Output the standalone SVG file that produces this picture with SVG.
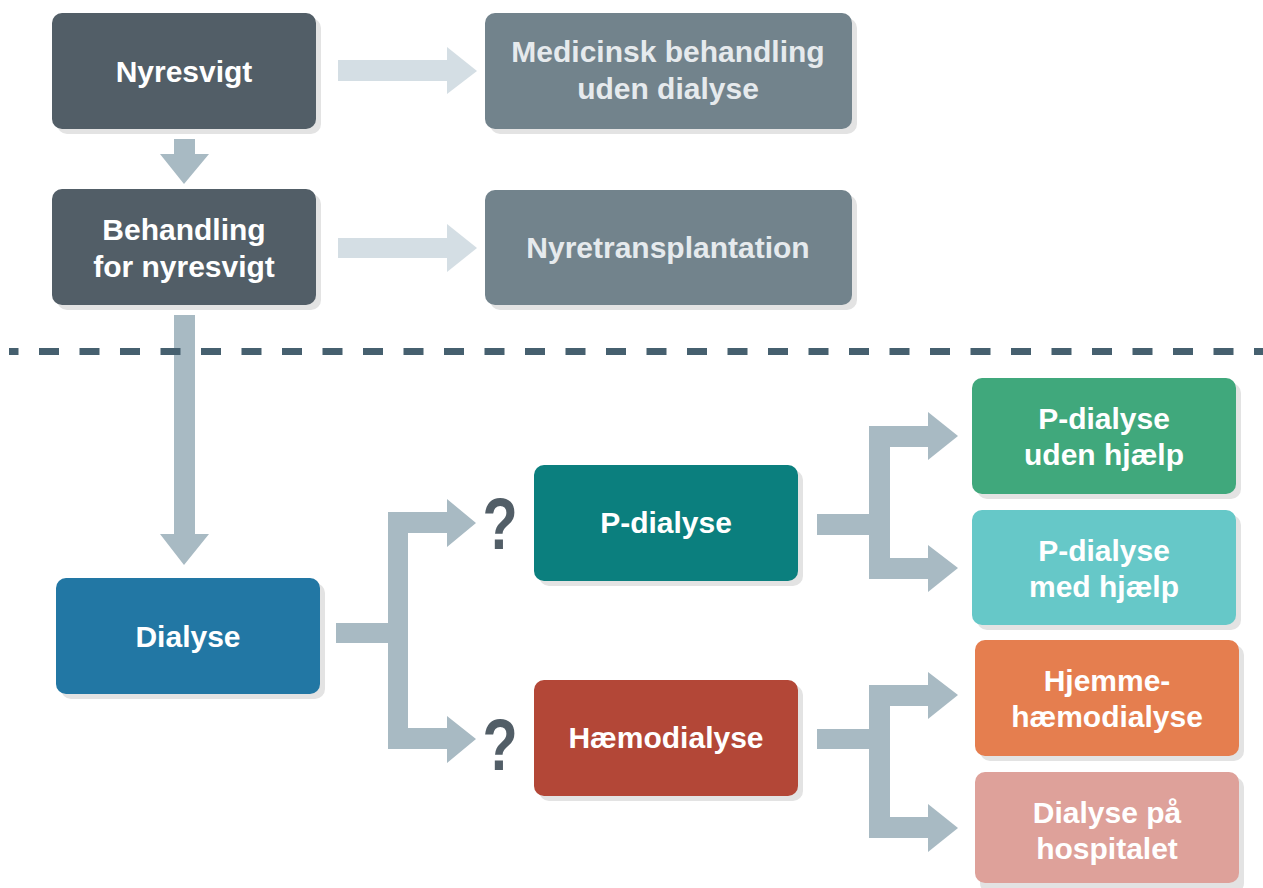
<svg xmlns="http://www.w3.org/2000/svg" width="1263" height="888" viewBox="0 0 1263 888">
  <style>
    .sh { fill: #e3e3e3; }
    .t { font-family: "Liberation Sans", Arial, sans-serif; font-weight: 700; font-size: 30px; fill: #ffffff; text-anchor: middle; }
    .tl { fill: #e6eaed; }
    .arr { fill: #a8bac3; }
    .arrl { fill: #d4dee4; }
    .q { font-family: "Liberation Sans", Arial, sans-serif; font-weight: 700; font-size: 72px; fill: #525e67; text-anchor: middle; }
  </style>
  <rect width="1263" height="888" fill="#ffffff"/>

  <g id="connectors">
    <polygon class="arrl" points="338,60 447,60 447,47 477,71 447,94 447,81 338,81"/>
    <polygon class="arrl" points="338,238 447,238 447,224 477,248 447,272 447,258 338,258"/>
    <polygon class="arr" points="174,139 195,139 195,154 209,154 184,184 160,154 174,154"/>
    <polygon class="arr" points="174,315 195,315 195,534 209,534 184,565 160,534 174,534"/>
    <polygon class="arr" points="336,623 388,623 388,512 447,512 447,499 476,523 447,547 447,533 408,533 408,728 447,728 447,716 476,739 447,763 447,749 388,749 388,643 336,643"/>
    <polygon class="arr" points="817,514 869,514 869,426 928,426 928,412 958,436 928,460 928,447 890,447 890,558 928,558 928,545 958,568 928,592 928,579 869,579 869,535 817,535"/>
    <polygon class="arr" points="817,729 869,729 869,685 928,685 928,672 958,695 928,719 928,706 890,706 890,817 928,817 928,804 958,828 928,852 928,838 869,838 869,749 817,749"/>
    <text class="q" transform="translate(500,549) scale(0.8,1)">?</text>
    <text class="q" transform="translate(500,770) scale(0.8,1)">?</text>
  </g>

  <line x1="9" y1="351.5" x2="1263" y2="351.5" stroke="#46606f" stroke-width="7" stroke-dasharray="20 20.5" stroke-dashoffset="10.5"/>

  <g id="nyresvigt">
    <rect class="sh" x="57" y="18" width="264" height="116" rx="10"/>
    <rect x="52" y="13" width="264" height="116" rx="10" fill="#525e67"/>
    <text class="t" x="184" y="82">Nyresvigt</text>
  </g>

  <g id="medicinsk">
    <rect class="sh" x="490" y="18" width="367" height="116" rx="10"/>
    <rect x="485" y="13" width="367" height="116" rx="10" fill="#72838c"/>
    <text class="t tl" x="668" y="62">Medicinsk behandling</text>
    <text class="t tl" x="668" y="99">uden dialyse</text>
  </g>

  <g id="behandling">
    <rect class="sh" x="57" y="194" width="264" height="116" rx="10"/>
    <rect x="52" y="189" width="264" height="116" rx="10" fill="#525e67"/>
    <text class="t" x="184" y="240">Behandling</text>
    <text class="t" x="184" y="277">for nyresvigt</text>
  </g>

  <g id="nyretransplantation">
    <rect class="sh" x="490" y="195" width="367" height="115" rx="10"/>
    <rect x="485" y="190" width="367" height="115" rx="10" fill="#72838c"/>
    <text class="t tl" x="668" y="258">Nyretransplantation</text>
  </g>

  <g id="dialyse">
    <rect class="sh" x="61" y="583" width="264" height="116" rx="10"/>
    <rect x="56" y="578" width="264" height="116" rx="10" fill="#2277a4"/>
    <text class="t" x="188" y="647">Dialyse</text>
  </g>

  <g id="p-dialyse">
    <rect class="sh" x="539" y="470" width="264" height="116" rx="10"/>
    <rect x="534" y="465" width="264" height="116" rx="10" fill="#0b7f7e"/>
    <text class="t" x="666" y="533">P-dialyse</text>
  </g>

  <g id="haemodialyse">
    <rect class="sh" x="539" y="685" width="264" height="116" rx="10"/>
    <rect x="534" y="680" width="264" height="116" rx="10" fill="#b34737"/>
    <text class="t" x="666" y="748">Hæmodialyse</text>
  </g>

  <g id="p-dialyse-uden">
    <rect class="sh" x="977" y="383" width="264" height="116" rx="10"/>
    <rect x="972" y="378" width="264" height="116" rx="10" fill="#40a87c"/>
    <text class="t" x="1104" y="429">P-dialyse</text>
    <text class="t" x="1104" y="465">uden hjælp</text>
  </g>

  <g id="p-dialyse-med">
    <rect class="sh" x="977" y="515" width="264" height="115" rx="10"/>
    <rect x="972" y="510" width="264" height="115" rx="10" fill="#66c8c8"/>
    <text class="t" x="1104" y="561">P-dialyse</text>
    <text class="t" x="1104" y="597">med hjælp</text>
  </g>

  <g id="hjemme">
    <rect class="sh" x="980" y="645" width="264" height="116" rx="10"/>
    <rect x="975" y="640" width="264" height="116" rx="10" fill="#e57e4f"/>
    <text class="t" x="1107" y="691">Hjemme-</text>
    <text class="t" x="1107" y="727">hæmodialyse</text>
  </g>

  <g id="hospital">
    <rect class="sh" x="980" y="777" width="264" height="116" rx="10"/>
    <rect x="975" y="772" width="264" height="111" rx="10" fill="#dea19a"/>
    <text class="t" x="1107" y="823">Dialyse på</text>
    <text class="t" x="1107" y="859">hospitalet</text>
  </g>
</svg>
